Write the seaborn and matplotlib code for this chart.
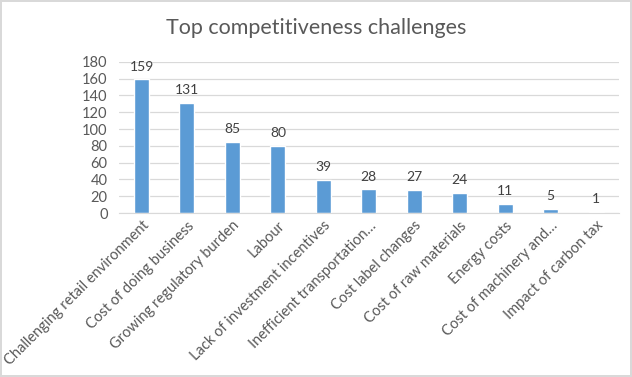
import pandas as pd
import matplotlib.pyplot as plt
import seaborn as sns

categories = ['Challenging retail environment', 'Cost of doing business', 'Growing regulatory burden',
              'Labour', 'Lack of investment incentives', 'Inefficient transportation…',
              'Cost label changes', 'Cost of raw materials', 'Energy costs',
              'Cost of machinery and…', 'Impact of carbon tax']
counts = [159, 131, 85, 80, 39, 28, 27, 24, 11, 5, 1]
y_ticks = [0, 20, 40, 60, 80, 100, 120, 140, 160, 180]

df = pd.DataFrame({'challenge': categories, 'count': counts})

sns.set_style('white')
plt.rcParams['font.family'] = ['Lato', 'DejaVu Sans']

fig = plt.figure(figsize=(6.32, 3.77), dpi=100)
ax = fig.add_axes([0.188, 0.435, 0.791, 0.401])

sns.barplot(data=df, x='challenge', y='count', color='#5B9BD5', width=0.33, saturation=1, ax=ax)

# data labels above the bars
for i, v in enumerate(counts):
    ax.annotate(str(v), (i, v), xytext=(0, 5), textcoords='offset points',
                ha='center', va='bottom', fontsize=10, color='#404040')

ax.set_ylim(0, 180)
ax.set_yticks(y_ticks)
ax.set_xlim(-0.5, len(categories) - 0.5)
ax.yaxis.grid(True, color='#D9D9D9', linewidth=0.9)
ax.set_axisbelow(True)
for s in ['top', 'right', 'left']:
    ax.spines[s].set_visible(False)
ax.spines['bottom'].set_color('#D9D9D9')
ax.set_xlabel('')
ax.set_ylabel('')
ax.tick_params(axis='both', length=0, colors='#595959', labelsize=10.5)
ax.tick_params(axis='x', pad=4)
ax.tick_params(axis='y', pad=8)
plt.setp(ax.get_xticklabels(), rotation=45, ha='right', rotation_mode='anchor')

fig.text(0.5, 0.925, 'Top competitiveness challenges', ha='center', va='center',
         fontsize=15.5, color='#595959')

fig.patch.set_edgecolor('#D9D9D9')
fig.patch.set_linewidth(1.5)
fig.savefig('out.png', dpi=100, edgecolor=fig.get_edgecolor())
